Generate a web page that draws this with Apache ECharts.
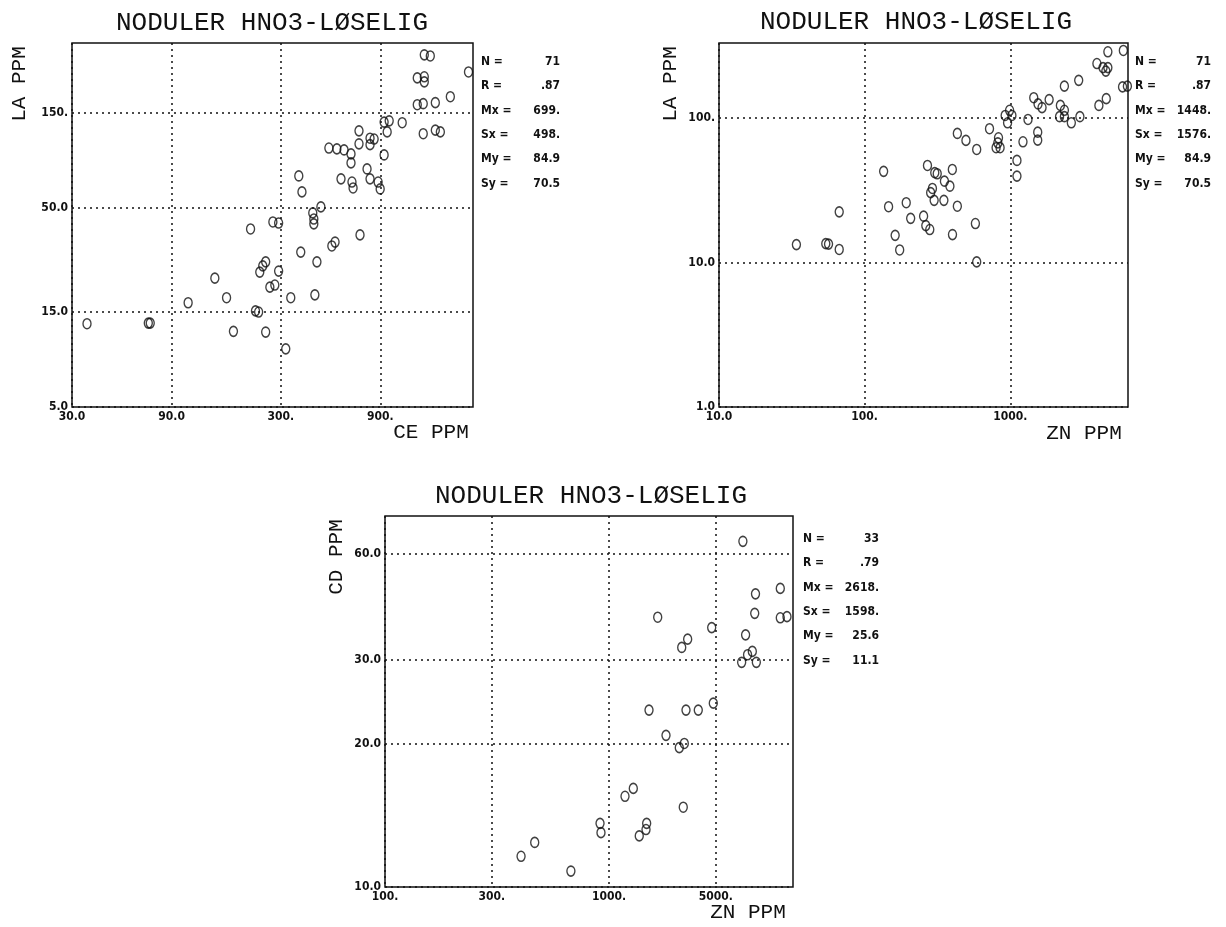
<!DOCTYPE html>
<html>
<head>
<meta charset="utf-8">
<title>Noduler HNO3-løselig</title>
<style>
html,body{margin:0;padding:0;background:#fff;}
#chart{width:1226px;height:927px;}
</style>
<script src="https://cdn.jsdelivr.net/npm/echarts@6/dist/echarts.min.js"></script>
</head>
<body>
<div id="chart"></div>
<script>
// plott 1: LA mot CE
var ceA = [35.4,69.6,71.1,108,145,165,178,215,227,235,254,246,238,254,266,281,275,293,293,317,335,366,379,374,427,432,432,467,447,437,510,557,603,651,651,583,658,666,527,546,719,711,711,803,840,803,777,803,878,898,938,938,992,970,1145,1352,1461,1461,1461,1561,1352,1444,1650,1444,1650,1744,1947,2379];
var laA = [13.1,13.2,13.2,16.7,22.2,17.7,12.0,39.2,15.2,15.0,26.8,25.6,23.8,11.9,20.0,20.5,42.5,42.0,24.1,9.8,17.7,72.4,60.2,30.0,47.2,44.0,41.6,50.6,26.8,18.3,100,99,97.8,93.4,84.2,70.0,67.5,63.0,32.2,33.7,36.6,122,105,112,111,104,78.5,70.0,67.5,62.3,92.3,135,137,120.5,134,225,228,215,294,290,165,167,169,118,123,120.5,181,241];

// plott 2: LA mot ZN
var znB = [66.9,34.0,54.1,56.5,66.9,135,146,193,207,162,174,270,303,315,292,284,300,350,353,385,400,433,254,263,280,401,576,588,433,496,588,720,830,821,799,851,922,989,1026,958,1111,1111,1222,1323,1449,1551,1652,1543,1543,1848,2352,2208,2352,2179,2352,2625,2949,3006,3933,4332,4530,4677,4677,5974,5898,6368,4560,4058];
var laB = [22.4,13.3,13.5,13.4,12.3,42.7,24.3,25.9,20.2,15.4,12.2,46.9,41.8,41.1,32.5,30.4,26.9,26.9,36.5,33.7,44.0,24.5,20.9,18.0,16.9,15.6,18.6,10.1,78.1,69.9,60.5,84.2,72.9,67.3,62.2,62.2,104,113,104,92.6,50.8,39.6,68.4,97.6,138,125,118,79.7,70.2,134,166,122,113,102,102,92.6,182,102,238,223,211,223,287,293,164,166,136,122];

// plott 3: CD mot ZN
var znC = [466,405,676,912,921,1179,1284,1365,1463,1473,2146,1509,1797,2060,2169,2207,2504,2922,1650,2112,2245,2874,3961,5818,4509,4473,5818,6232,4073,4364,4156,3911,4548];
var cdC = [12.4,11.6,10.8,13.6,13.0,15.5,16.1,12.8,13.2,13.6,14.7,23.5,20.8,19.6,20.0,23.5,23.5,24.3,36.8,31.8,33.1,35.0,53.1,42.3,41.2,37.5,36.7,36.9,33.8,31.2,30.7,29.6,29.6];

// akseinndeling og tekst
var ceTicks = [30, 90, 300, 900];
var ceLabels = ['30.0', '90.0', '300.', '900.'];
var laTicksA = [5, 15, 50, 150];
var laLabelsA = ['5.0', '15.0', '50.0', '150.'];
var znTicksB = [10, 100, 1000];
var znLabelsB = ['10.0', '100.', '1000.'];
var laTicksB = [1, 10, 100];
var laLabelsB = ['1.0', '10.0', '100.'];
var znTicksC = [100, 300, 1000, 3000];
var znLabelsC = ['100.', '300.', '1000.', '5000.'];
var cdTicks = [10, 20, 30, 50];
var cdLabels = ['10.0', '20.0', '30.0', '60.0'];

var statNames = ['N =', 'R =', 'Mx =', 'Sx =', 'My =', 'Sy ='];
var statsA = ['71', '.87', '699.', '498.', '84.9', '70.5'];
var statsB = ['71', '.87', '1448.', '1576.', '84.9', '70.5'];
var statsC = ['33', '.79', '2618.', '1598.', '25.6', '11.1'];

var title = 'NODULER HNO3-LØSELIG';
var ink = '#111';
var plotFont = '"Liberation Mono", "DejaVu Sans Mono", monospace';
var smallFamily = '"DejaVu Sans Condensed", "DejaVu Sans", sans-serif';
var smallFont = 'bold 12px ' + smallFamily;

function zip(xs, ys) {
  return xs.map(function (x, i) { return [x, ys[i]]; });
}

function logAxis(grid, min, max, ticks, labels) {
  return {
    type: 'log', gridIndex: grid, min: min, max: max,
    axisLine: {show: false},
    axisTick: {show: false, customValues: ticks},
    axisLabel: {
      customValues: ticks, margin: 4,
      color: ink, fontFamily: smallFamily, fontWeight: 'bold', fontSize: 12,
      formatter: function (v) {
        for (var i = 0; i < ticks.length; i++) {
          if (Math.abs(Math.log10(v) - Math.log10(ticks[i])) < 0.01) return labels[i];
        }
        return '';
      }
    },
    splitLine: {show: true, lineStyle: {color: ink, width: 1.5, type: [2, 4]}}
  };
}

function scatter(i, xs, ys) {
  return {
    type: 'scatter', xAxisIndex: i, yAxisIndex: i,
    data: zip(xs, ys),
    symbol: 'circle', symbolSize: [8, 10],
    itemStyle: {color: 'rgba(0,0,0,0)', borderColor: ink, borderWidth: 1.5},
    emphasis: {disabled: true}
  };
}

function text(x, y, str, font, align, rot) {
  return {
    type: 'text', x: x, y: y, rotation: rot || 0, silent: true,
    style: {text: str, font: font, fill: ink, textAlign: align || 'center', textVerticalAlign: 'middle'}
  };
}

function statBlock(x0, x1, y0, values) {
  var out = [];
  for (var i = 0; i < statNames.length; i++) {
    out.push(text(x0, y0 + i * 24.3, statNames[i], smallFont, 'left'));
    out.push(text(x1, y0 + i * 24.3, values[i], smallFont, 'right'));
  }
  return out;
}

var titleFont = '26px ' + plotFont;
var nameFont = '21px ' + plotFont;

var graphics = [
  text(272, 23, title, titleFont),
  text(916, 22, title, titleFont),
  text(591, 496, title, titleFont),
  text(19, 84, 'LA PPM', nameFont, 'center', Math.PI / 2),
  text(431, 432, 'CE PPM', nameFont),
  text(670, 84, 'LA PPM', nameFont, 'center', Math.PI / 2),
  text(1084, 433, 'ZN PPM', nameFont),
  text(336, 557, 'CD PPM', nameFont, 'center', Math.PI / 2),
  text(748, 912, 'ZN PPM', nameFont)
].concat(statBlock(481, 560, 62, statsA))
 .concat(statBlock(1135, 1211, 62, statsB))
 .concat(statBlock(803, 879, 539, statsC));

var gridStyle = {show: true, borderColor: ink, borderWidth: 1.5, backgroundColor: 'transparent'};

var option = {
  backgroundColor: '#fff',
  animation: false,
  grid: [
    Object.assign({left: 72, top: 43, width: 401, height: 364}, gridStyle),
    Object.assign({left: 719, top: 43, width: 409, height: 364}, gridStyle),
    Object.assign({left: 385, top: 516, width: 408, height: 371}, gridStyle)
  ],
  xAxis: [
    logAxis(0, 30, 2500, ceTicks, ceLabels),
    logAxis(1, 10, 6430, znTicksB, znLabelsB),
    logAxis(2, 100, 6630, znTicksC, znLabelsC)
  ],
  yAxis: [
    logAxis(0, 5, 337, laTicksA, laLabelsA),
    logAxis(1, 1, 330, laTicksB, laLabelsB),
    logAxis(2, 10, 60, cdTicks, cdLabels)
  ],
  series: [
    scatter(0, ceA, laA),
    scatter(1, znB, laB),
    scatter(2, znC, cdC)
  ],
  graphic: graphics
};

var chart = echarts.init(document.getElementById('chart'));
chart.setOption(option);
</script>
</body>
</html>
